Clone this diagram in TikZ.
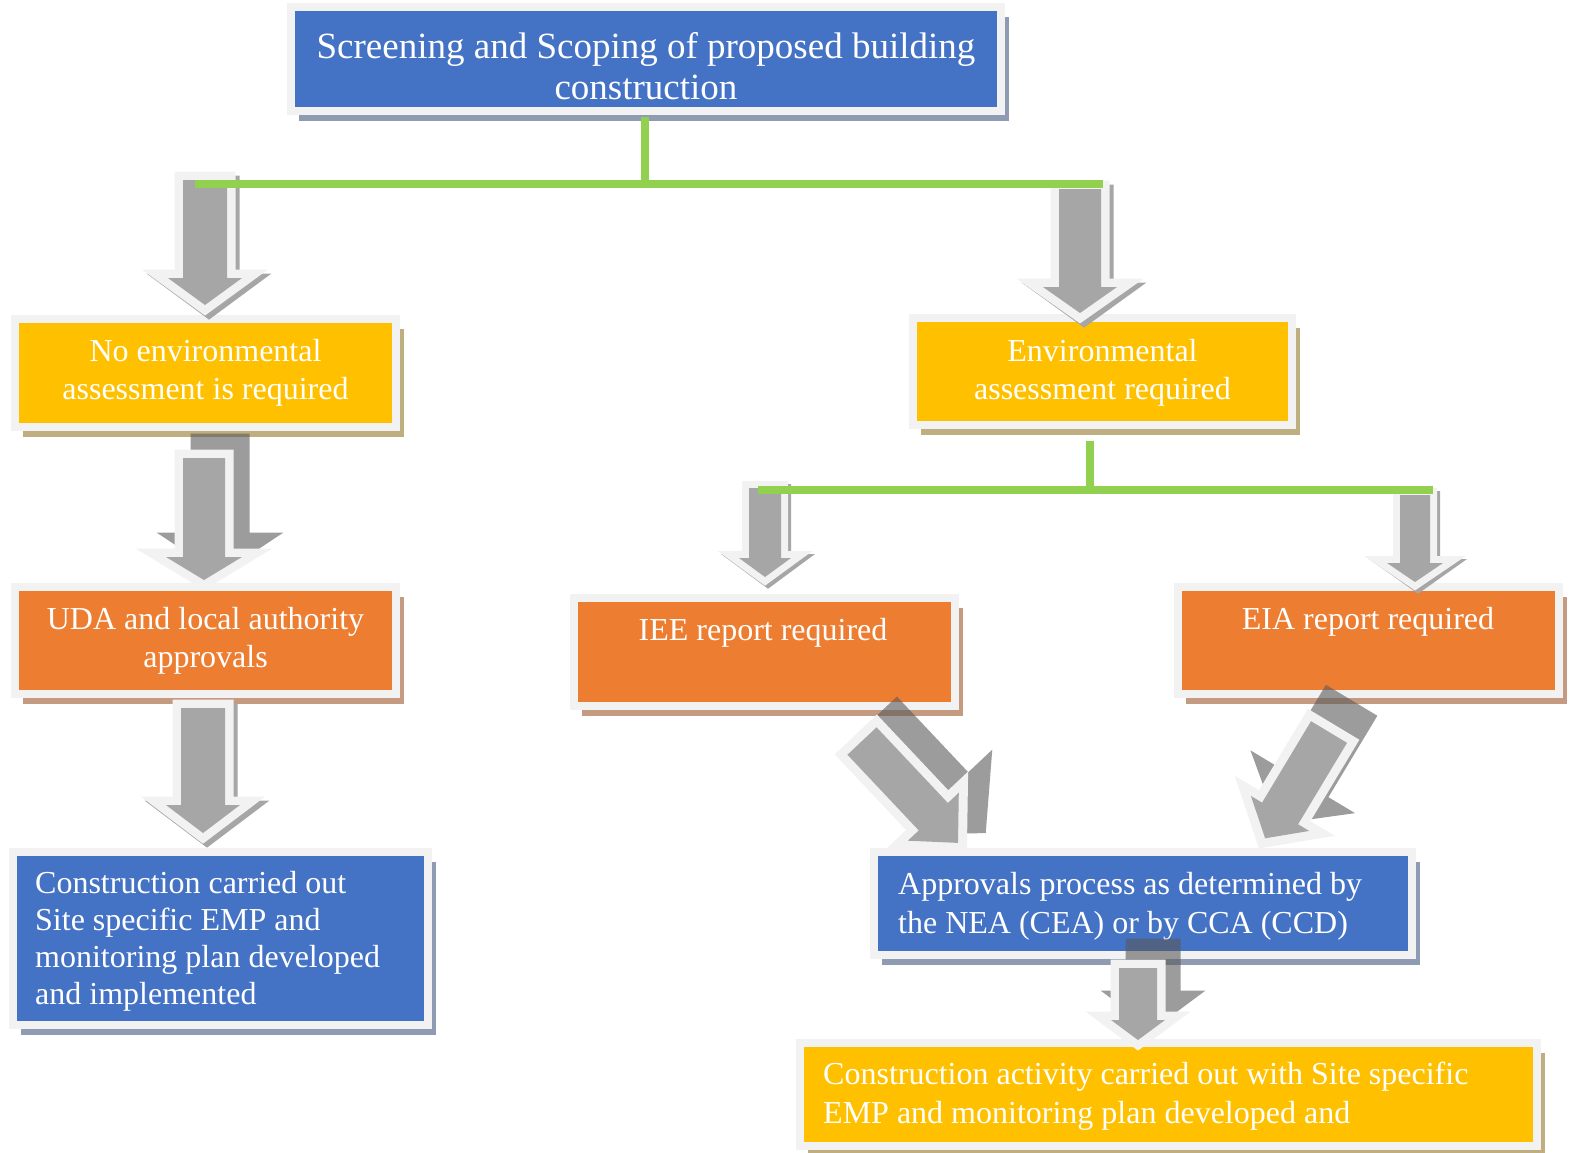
\documentclass[tikz,border=0pt]{standalone}
\usepackage{fontspec}
\setmainfont{Liberation Serif}
\usetikzlibrary{calc,shadows}
\definecolor{BoxBlue}{RGB}{68,114,196}
\definecolor{BoxYellow}{RGB}{255,192,0}
\definecolor{BoxOrange}{RGB}{237,125,49}
\definecolor{FrameGray}{RGB}{242,242,242}
\definecolor{ArrowGray}{RGB}{166,166,166}
\definecolor{ShadowDark}{RGB}{90,90,90}
\definecolor{LinkGreen}{RGB}{146,208,80}
\definecolor{ShadowBlue}{RGB}{142,155,178}
\definecolor{ShadowYellow}{RGB}{191,175,128}
\definecolor{ShadowOrange}{RGB}{196,154,128}
% block arrow along the local x axis: start, tip, head start, shaft half width, head half width
\newcommand{\arrowshape}[5]{(#1,#4) -- (#3,#4) -- (#3,#5) -- (#2,0) -- (#3,{-(#5)}) -- (#3,{-(#4)}) -- (#1,{-(#4)}) -- cycle}
% #1 options, #2 x, #3 y, #4 angle, #5 length, #6 head start, #7 shaft half width, #8 head half width
\newcommand{\grayarrow}[8]{%
  \begin{scope}[shift={(#2,#3)},#1]
    \fill[arrowshadow,shift={(\shdx,\shdy)},rotate=#4] \arrowshape{-\rimo}{#5+1.25*\rimo}{#6-\rimo}{#7+\rimo}{#8+3*\rimo};
    \draw[arrowrim,rotate=#4] \arrowshape{0}{#5}{#6}{#7}{#8};
    \fill[ArrowGray,rotate=#4] \arrowshape{0}{#5}{#6}{#7}{#8};
  \end{scope}}
\tikzset{
  rim/.store in=\rimo, rim=8.5,
  shdx/.store in=\shdx, shdx=4,
  shdy/.store in=\shdy, shdy=4,
  arrowrim/.style={draw=FrameGray,line width=2*\rimo pt,line join=miter},
  arrowshadow/.style={fill=ArrowGray},
  far shadow/.style={shdx=16,shdy=-16,arrowshadow/.style={fill=ShadowDark,fill opacity=0.6}},
  box/.style={rectangle,draw=FrameGray,line width=8pt,inner sep=0pt},
  blue box/.style={box,fill=BoxBlue,drop shadow={shadow xshift=8pt,shadow yshift=-10pt,fill=ShadowBlue,opacity=1}},
  yellow box/.style={box,fill=BoxYellow,drop shadow={shadow xshift=8pt,shadow yshift=-10pt,fill=ShadowYellow,opacity=1}},
  orange box/.style={box,fill=BoxOrange,drop shadow={shadow xshift=8pt,shadow yshift=-10pt,fill=ShadowOrange,opacity=1}},
  txt/.style={text=white,inner sep=0pt,font=\fontsize{32}{38}\selectfont},
  link/.style={draw=LinkGreen,line width=8pt},
}
\begin{document}
\begin{tikzpicture}[x=1pt,y=-1pt]
\useasboundingbox (0,0) rectangle (1573,1152);
% boxes
\node[blue box,minimum width=710,minimum height=104] (top) at (646,59) {};
\node[yellow box,minimum width=381,minimum height=108] (noenv) at (205.5,373) {};
\node[yellow box,minimum width=379,minimum height=107] (envreq) at (1102.5,371.5) {};
\node[orange box,minimum width=381,minimum height=107] (uda) at (205.5,640.5) {};
\node[orange box,minimum width=381,minimum height=108] (iee) at (764.5,652) {};
\node[orange box,minimum width=381,minimum height=107] (eia) at (1368.5,640.5) {};
\node[blue box,minimum width=415,minimum height=173] (cons) at (220.5,938.5) {};
\node[blue box,minimum width=538,minimum height=103] (appr) at (1143,903.5) {};
\node[yellow box,minimum width=737,minimum height=103] (act) at (1168.5,1094.5) {};
% texts
\node[txt,align=center,anchor=north,font=\fontsize{37}{41}\selectfont] (top-t) at (646,32) {Screening and Scoping of proposed building\\construction};
\node[txt,align=center,anchor=north] (noenv-t) at (205.5,339) {No environmental\\assessment is required};
\node[txt,align=center,anchor=north] (envreq-t) at (1102.5,339) {Environmental\\assessment required};
\node[txt,align=center,anchor=north] (uda-t) at (205.5,607) {UDA and local authority\\approvals};
\node[txt,anchor=north] (iee-t) at (763,618) {IEE report required};
\node[txt,anchor=north] (eia-t) at (1368,607) {EIA report required};
\node[txt,align=left,anchor=north west,font=\fontsize{32}{37}\selectfont] (cons-t) at (35,871) {Construction carried out\\Site specific EMP and\\monitoring plan developed\\and implemented};
\node[txt,align=left,anchor=north west,font=\fontsize{32}{39}\selectfont] (appr-t) at (898,872) {Approvals process as determined by\\the NEA (CEA) or by CCA (CCD)};
\node[txt,align=left,anchor=north west,font=\fontsize{32}{39}\selectfont] (act-t) at (823,1062) {Construction activity carried out with Site specific\\EMP and monitoring plan developed and};
% block arrows
\grayarrow{}{205}{180}{-90}{125}{98}{22}{37}
\grayarrow{}{1080}{189}{-90}{124}{98}{21}{37}
\grayarrow{far shadow}{204}{458}{-90}{122}{99}{21}{38}
\grayarrow{}{203}{708}{-90}{125}{97}{22}{37}
\grayarrow{rim=7,shdx=3,shdy=3}{765}{488}{-90}{89}{70}{16}{26}
\grayarrow{rim=7,shdx=3,shdy=3}{1415}{495}{-90}{87}{68}{15}{28}
\grayarrow{far shadow,rim=9,shdx=20,shdy=-18}{862}{741}{-46.7}{140}{104}{20}{35}
\grayarrow{far shadow,rim=9,shdx=18,shdy=-24}{1329}{732}{-121}{124}{95}{21}{34}
\grayarrow{far shadow,shdx=15,shdy=-21}{1138}{968}{-90}{72}{52}{19}{27}
% green links
\coordinate (j1) at (645,184);
\coordinate (l1) at (195,184);
\coordinate (r1) at (1103,184);
\coordinate (j2) at (1090,490);
\coordinate (l2) at (758,490);
\coordinate (r2) at (1433,490);
\draw[link] ($(j1 |- top.south)+(0,2)$) -- (j1);
\draw[link] (l1) -- (r1);
\draw[link] ($(j2 |- envreq.south)+(0,12)$) -- (j2);
\draw[link] (l2) -- (r2);
\end{tikzpicture}
\end{document}
